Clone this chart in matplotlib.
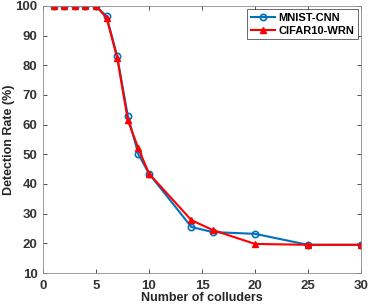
import matplotlib
matplotlib.use("Agg")
import matplotlib.pyplot as plt

plt.rcParams["font.family"] = ["Liberation Sans", "DejaVu Sans"]
plt.rcParams["font.weight"] = "bold"

# data
colluders = [1, 2, 3, 4, 5, 6, 7, 8, 9, 10, 14, 16, 20, 25, 30]
mnist_cnn = [100, 100, 100, 100, 100, 96.5, 83, 63, 50, 43.5, 25.5, 23.8, 23.2, 19.5, 19.5]
cifar10_wrn = [100, 100, 100, 100, 100, 96, 82.5, 61.5, 52, 43.5, 27.8, 24.5, 19.8, 19.5, 19.5]

x_ticks = [0, 5, 10, 15, 20, 25, 30]
y_ticks = [10, 20, 30, 40, 50, 60, 70, 80, 90, 100]

fig = plt.figure(figsize=(3.68, 3.04), dpi=100)
ax = fig.add_axes([43 / 368, 1 - 273 / 304, 318 / 368, 267 / 304])

ax.plot(colluders, mnist_cnn, color="#0072BD", marker="o", markersize=4.5,
        markerfacecolor="none", markeredgewidth=1.2, linewidth=1.5, label="MNIST-CNN")
ax.plot(colluders, cifar10_wrn, color="#FF0000", marker="^", markersize=5,
        linewidth=1.5, label="CIFAR10-WRN")

ax.set_xlim(0, 30)
ax.set_ylim(10, 100)
ax.set_xticks(x_ticks)
ax.set_yticks(y_ticks)
ax.tick_params(direction="in", top=True, right=True, labelsize=9.5, colors="#333333",
               length=3, width=0.6)
ax.tick_params(axis="x", pad=5)
ax.tick_params(axis="y", pad=4)
for lbl in ax.get_xticklabels() + ax.get_yticklabels():
    lbl.set_fontweight("bold")
for spine in ax.spines.values():
    spine.set_color("#8c8c8c")
    spine.set_linewidth(0.6)

ax.set_xlabel("Number of colluders", fontsize=9, fontweight="bold", color="#262626")
ax.set_ylabel("Detection Rate (%)", fontsize=9, fontweight="bold", color="#262626")
ax.xaxis.set_label_coords(0.5, -0.073)
ax.yaxis.set_label_coords(-0.088, 0.5)

leg = ax.legend(loc="upper right", fontsize=8, frameon=True, fancybox=False,
                borderpad=0.3, handlelength=2.2, handletextpad=0.3,
                labelspacing=0.3, borderaxespad=0.3)
leg.get_frame().set_edgecolor("#262626")
leg.get_frame().set_linewidth(0.6)
for t in leg.get_texts():
    t.set_fontweight("bold")

fig.savefig("out.png", dpi=100)
